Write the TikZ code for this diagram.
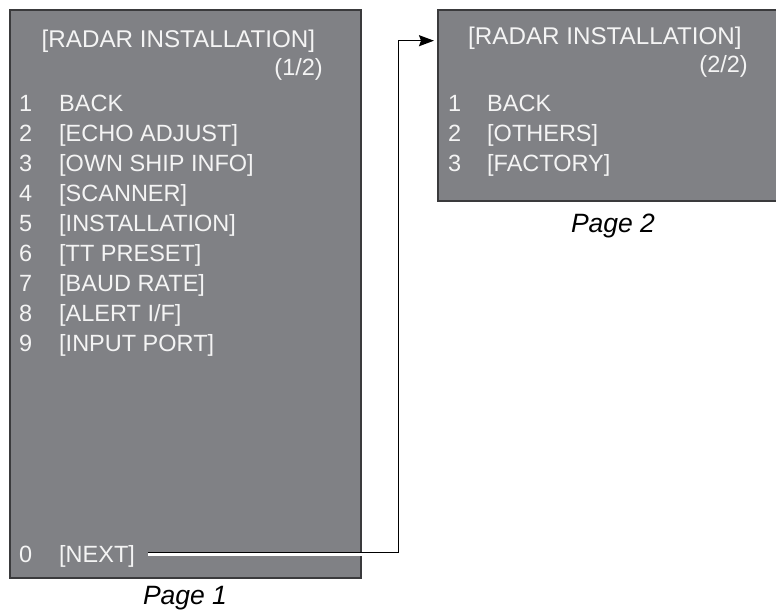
\documentclass[tikz,border=0pt]{standalone}
\usepackage{fontspec}
\setmainfont{Liberation Sans}
\usetikzlibrary{arrows.meta}
\definecolor{panel}{HTML}{808185}
\definecolor{edge}{HTML}{3A3A3C}
\definecolor{txt}{HTML}{F4F4F4}
\begin{document}
\begin{tikzpicture}[x=1pt,y=-1pt,
  panelbox/.style={draw=edge, fill=panel, line width=1.6pt, anchor=north west, inner sep=0pt},
  menu/.style={text=txt, font=\fontsize{23.5}{28}\selectfont, anchor=base west, inner sep=0pt},
  menur/.style={menu, anchor=base east},
  titletext/.style={menu, font=\fontsize{24.2}{28}\selectfont},
  caption/.style={font=\fontsize{26.5}{30}\selectfont\itshape, anchor=base, inner sep=0pt},
  link/.style={line width=1.5pt, black}]
\useasboundingbox (0,0) rectangle (776,610);
% panels
\node[panelbox, minimum width=351pt, minimum height=568pt] (p1) at (9,9) {};
\node[panelbox, minimum width=345pt, minimum height=191pt] (p2) at (437,9) {};
% page 1 texts
\node[titletext] (t1) at (41.5,48) {[RADAR INSTALLATION]};
\node[menur] (n1) at (323,75) {(1/2)};
\node[menu] (a1) at (19,111) {1}; \node[menu] (b1) at (59,111) {BACK};
\node[menu] (a2) at (19,141) {2}; \node[menu] (b2) at (59,141) {[ECHO ADJUST]};
\node[menu] (a3) at (19,171) {3}; \node[menu] (b3) at (59,171) {[OWN SHIP INFO]};
\node[menu] (a4) at (19,201) {4}; \node[menu] (b4) at (59,201) {[SCANNER]};
\node[menu] (a5) at (19,231) {5}; \node[menu] (b5) at (59,231) {[INSTALLATION]};
\node[menu] (a6) at (19,261) {6}; \node[menu] (b6) at (59,261) {[TT PRESET]};
\node[menu] (a7) at (19,291) {7}; \node[menu] (b7) at (59,291) {[BAUD RATE]};
\node[menu] (a8) at (19,321) {8}; \node[menu] (b8) at (59,321) {[ALERT I/F]};
\node[menu] (a9) at (19,351) {9}; \node[menu] (b9) at (59,351) {[INPUT PORT]};
\node[menu] (a0) at (19,562) {0}; \node[menu] (next) at (59,562) {[NEXT]};
% page 2 texts
\node[titletext] (t2) at (468,45) {[RADAR INSTALLATION]};
\node[menur] (n2) at (748,72) {(2/2)};
\node[menu] (c1) at (448,111) {1}; \node[menu] (d1) at (487,111) {BACK};
\node[menu] (c2) at (448,141) {2}; \node[menu] (d2) at (487,141) {[OTHERS]};
\node[menu] (c3) at (448,171) {3}; \node[menu] (d3) at (487,171) {[FACTORY]};
% captions
\node[caption] (cap1) at (185,604) {Page 1};
\node[caption] (cap2) at (613,232) {Page 2};
% connector
\coordinate (s) at (148,552.5);
\coordinate (k) at (398.5,40.7);
\draw[white, line width=2.5pt] ([yshift=-2.2pt]s) -- ([yshift=-2.2pt]s -| p1.east);
\draw[link, -{Stealth[length=15pt,width=11pt,inset=2pt]}, shorten >=3pt] (s) -| (k) -- (k -| p2.west);
\end{tikzpicture}
\end{document}
